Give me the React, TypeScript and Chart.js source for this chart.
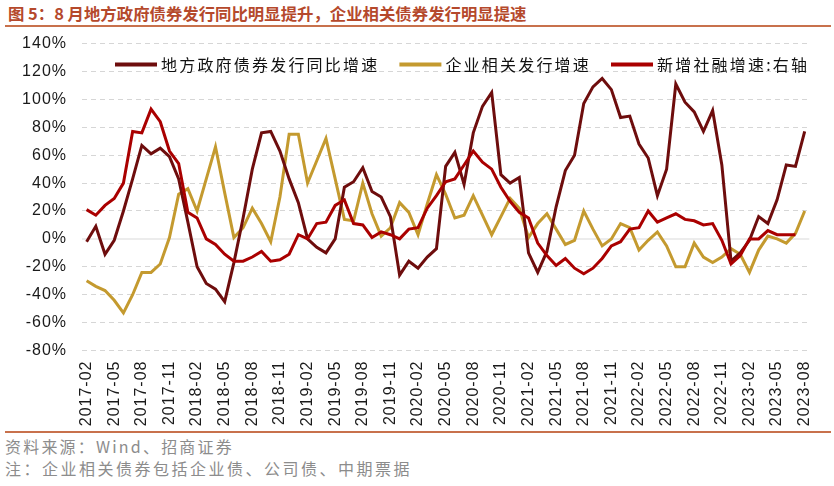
import React, { useEffect, useRef } from 'react';
import { Chart, registerables } from 'chart.js';

Chart.register(...registerables);

const categories = [
  '2017-02','2017-03','2017-04','2017-05','2017-06','2017-07','2017-08','2017-09','2017-10','2017-11','2017-12',
  '2018-01','2018-02','2018-03','2018-04','2018-05','2018-06','2018-07','2018-08','2018-09','2018-10','2018-11','2018-12',
  '2019-01','2019-02','2019-03','2019-04','2019-05','2019-06','2019-07','2019-08','2019-09','2019-10','2019-11','2019-12',
  '2020-01','2020-02','2020-03','2020-04','2020-05','2020-06','2020-07','2020-08','2020-09','2020-10','2020-11','2020-12',
  '2021-01','2021-02','2021-03','2021-04','2021-05','2021-06','2021-07','2021-08','2021-09','2021-10','2021-11','2021-12',
  '2022-01','2022-02','2022-03','2022-04','2022-05','2022-06','2022-07','2022-08','2022-09','2022-10','2022-11','2022-12',
  '2023-01','2023-02','2023-03','2023-04','2023-05','2023-06','2023-07','2023-08',
];

const localGovBondGrowth = [
  -2, 9, -11, -1, 20, 43, 67, 61, 65, 59, 43,
  12, -20, -32, -36, -45, -17, 15, 50, 76, 77, 63, 43,
  26, 0, -6, -10, 0, 37, 41, 51, 34, 30, 16, -26,
  -16, -21, -13, -7, 52, 62, 39, 76, 95, 105, 46, 40,
  44, -10, -24, -9, 23, 49, 60, 97, 109, 115, 107, 87,
  88, 68, 58, 31, 50, 111, 98, 91, 77, 92, 53, -16,
  -10, -1, 16, 11, 28, 53, 52, 77,
];

const corporateBondGrowth = [
  -30, -34, -37, -44, -53, -40, -24, -24, -18, 1, 32,
  36, 20, 43, 66, 33, 1, 8, 22, 11, -2, 30, 75,
  75, 40, 56, 72, 43, 14, 13, 40, 18, 2, 8, 26,
  19, 3, 25, 46, 32, 15, 17, 31, 17, 3, 16, 29,
  22, 1, 11, 18, 7, -4, -1, 20, 7, -5, 0, 11,
  8, -8, -1, 5, -5, -20, -20, -3, -13, -17, -13, -7,
  -11, -24, -8, 2, 0, -3, 4, 20,
];

const socialFinancingGrowth: (number | null)[] = [
  21, 17, 24, 29, 40, 77, 76, 93, 84, 63, 54,
  19, 15, 0, -4, -11, -16, -16, -13, -9, -16, -15, -11,
  3, 0, 11, 12, 24, 28, 11, 10, 1, 5, 3, 0,
  7, 8, 22, 31, 41, 43, 53, 63, 55, 50, 37, 27,
  19, 15, -3, -12, -19, -14, -21, -25, -21, -14, -5, -2,
  7, 8, 20, 12, 15, 18, 14, 13, 10, 11, -1, -18,
  -12, 0, 0, 6, 3, 3, 3, null,
];

const seriesNames = ['地方政府债券发行同比增速', '企业相关发行增速', '新增社融增速:右轴'];
const seriesColors = ['#6E0D0D', '#C49A2F', '#AA0000'];
const yMin = -80;
const yMax = 140;
const yStep = 20;
const labelEvery = 3;

const titleText = '图 5：8 月地方政府债券发行同比明显提升，企业相关债券发行明显提速';
const sourceText = '资料来源：Wind、招商证券';
const noteText = '注：企业相关债券包括企业债、公司债、中期票据';

const CJK = "'Noto Sans CJK SC', 'Noto Sans', sans-serif";
const LATIN = "'Liberation Sans', Arial, sans-serif";

export default function App() {
  const canvasRef = useRef<HTMLCanvasElement | null>(null);

  useEffect(() => {
    const canvas = canvasRef.current;
    if (!canvas) return;

    const spacingPlugin = {
      id: 'spacing',
      beforeLayout(chart: any) {
        chart.ctx.letterSpacing = '1px';
      },
      beforeDraw(chart: any) {
        chart.ctx.letterSpacing = '1px';
      },
    };

    const zeroLinePlugin = {
      id: 'zeroLine',
      beforeDatasetsDraw(chart: any) {
        const { ctx, chartArea, scales } = chart;
        const y = scales.y.getPixelForValue(0);
        ctx.save();
        ctx.strokeStyle = '#ECECEC';
        ctx.lineWidth = 2;
        ctx.setLineDash([]);
        ctx.beginPath();
        ctx.moveTo(chartArea.left, y);
        ctx.lineTo(chartArea.right, y);
        ctx.stroke();
        ctx.restore();
      },
    };

    const legendPlugin = {
      id: 'customLegend',
      afterDraw(chart: any) {
        const { ctx, chartArea } = chart;
        ctx.save();
        ctx.letterSpacing = '2.2px';
        ctx.font = `16px ${CJK}`;
        ctx.textBaseline = 'middle';
        ctx.textAlign = 'left';
        let x = 115;
        const y = chartArea.top + 21;
        chart.data.datasets.forEach((ds: any) => {
          ctx.strokeStyle = ds.borderColor;
          ctx.lineWidth = 4;
          ctx.setLineDash([]);
          ctx.beginPath();
          ctx.moveTo(x, y);
          ctx.lineTo(x + 42, y);
          ctx.stroke();
          ctx.fillStyle = '#111';
          const tx = x + 46;
          ctx.fillText(ds.label, tx, y);
          const w = ctx.measureText(ds.label).width;
          x = tx + w + 20;
        });
        ctx.restore();
      },
    };

    const chart = new Chart(canvas, {
      type: 'line',
      data: {
        labels: categories,
        datasets: [
          {
            label: seriesNames[0],
            data: localGovBondGrowth,
            borderColor: seriesColors[0],
            backgroundColor: seriesColors[0],
            borderWidth: 3,
            pointRadius: 0,
            tension: 0,
            order: 1,
          },
          {
            label: seriesNames[1],
            data: corporateBondGrowth,
            borderColor: seriesColors[1],
            backgroundColor: seriesColors[1],
            borderWidth: 3,
            pointRadius: 0,
            tension: 0,
            order: 2,
          },
          {
            label: seriesNames[2],
            data: socialFinancingGrowth,
            borderColor: seriesColors[2],
            backgroundColor: seriesColors[2],
            borderWidth: 3,
            pointRadius: 0,
            tension: 0,
            order: 0,
          },
        ],
      },
      options: {
        responsive: false,
        animation: false,
        devicePixelRatio: 1,
        layout: { padding: { top: 0, right: 16, bottom: 0, left: 0 } },
        plugins: {
          legend: { display: false },
          tooltip: { enabled: false },
          title: { display: false },
        },
        scales: {
          x: {
            type: 'category',
            offset: true,
            grid: { display: false, drawTicks: false },
            border: { display: false },
            ticks: {
              autoSkip: false,
              maxRotation: 90,
              minRotation: 90,
              padding: 10,
              color: '#1a1a1a',
              font: { family: LATIN, size: 16 },
              callback: (_v: any, idx: number) => (idx % labelEvery === 0 ? categories[idx] : ''),
            },
            afterFit: (scale: any) => {
              scale.height = 81.5;
            },
          },
          y: {
            min: yMin,
            max: yMax,
            grid: { color: '#D6D6D6', lineWidth: 1, drawTicks: false, borderDash: [5, 4] } as any,
            border: { display: false, dash: [5, 4] },
            ticks: {
              stepSize: yStep,
              padding: 15,
              color: '#1a1a1a',
              font: { family: LATIN, size: 16 },
              callback: (v: any) => `${v}%`,
            },
            afterFit: (scale: any) => {
              scale.width = 82;
            },
          },
        },
      },
      plugins: [spacingPlugin, zeroLinePlugin, legendPlugin],
    });

    return () => {
      chart.destroy();
    };
  }, []);

  return (
    <div
      style={{
        position: 'fixed',
        left: 0,
        top: 0,
        width: 834,
        height: 486,
        background: '#fff',
        overflow: 'hidden',
      }}
    >
      <div
        style={{
          position: 'absolute',
          left: 8,
          top: 1,
          fontFamily: CJK,
          fontWeight: 700,
          fontSize: 16.4,
          color: '#B5492C',
          whiteSpace: 'nowrap',
          lineHeight: '24px',
        }}
      >
        {titleText}
      </div>
      <div
        style={{
          position: 'absolute',
          left: 5,
          top: 25,
          width: 826,
          height: 2,
          background: '#C8714C',
        }}
      />
      <div style={{ position: 'absolute', left: 0, top: 19, width: 834, height: 413 }}>
        <canvas ref={canvasRef} width={834} height={413} style={{ width: 834, height: 413, display: 'block' }} />
      </div>
      <div
        style={{
          position: 'absolute',
          left: 5,
          top: 431,
          width: 826,
          height: 2,
          background: '#C8714C',
        }}
      />
      <div
        style={{
          position: 'absolute',
          left: 5,
          top: 435,
          fontFamily: CJK,
          fontSize: 16,
          letterSpacing: '2.2px',
          color: '#8C8C8C',
          whiteSpace: 'nowrap',
          lineHeight: '22px',
        }}
      >
        {sourceText}
      </div>
      <div
        style={{
          position: 'absolute',
          left: 5,
          top: 457,
          fontFamily: CJK,
          fontSize: 16,
          letterSpacing: '2.5px',
          color: '#8C8C8C',
          whiteSpace: 'nowrap',
          lineHeight: '22px',
        }}
      >
        {noteText}
      </div>
    </div>
  );
}
